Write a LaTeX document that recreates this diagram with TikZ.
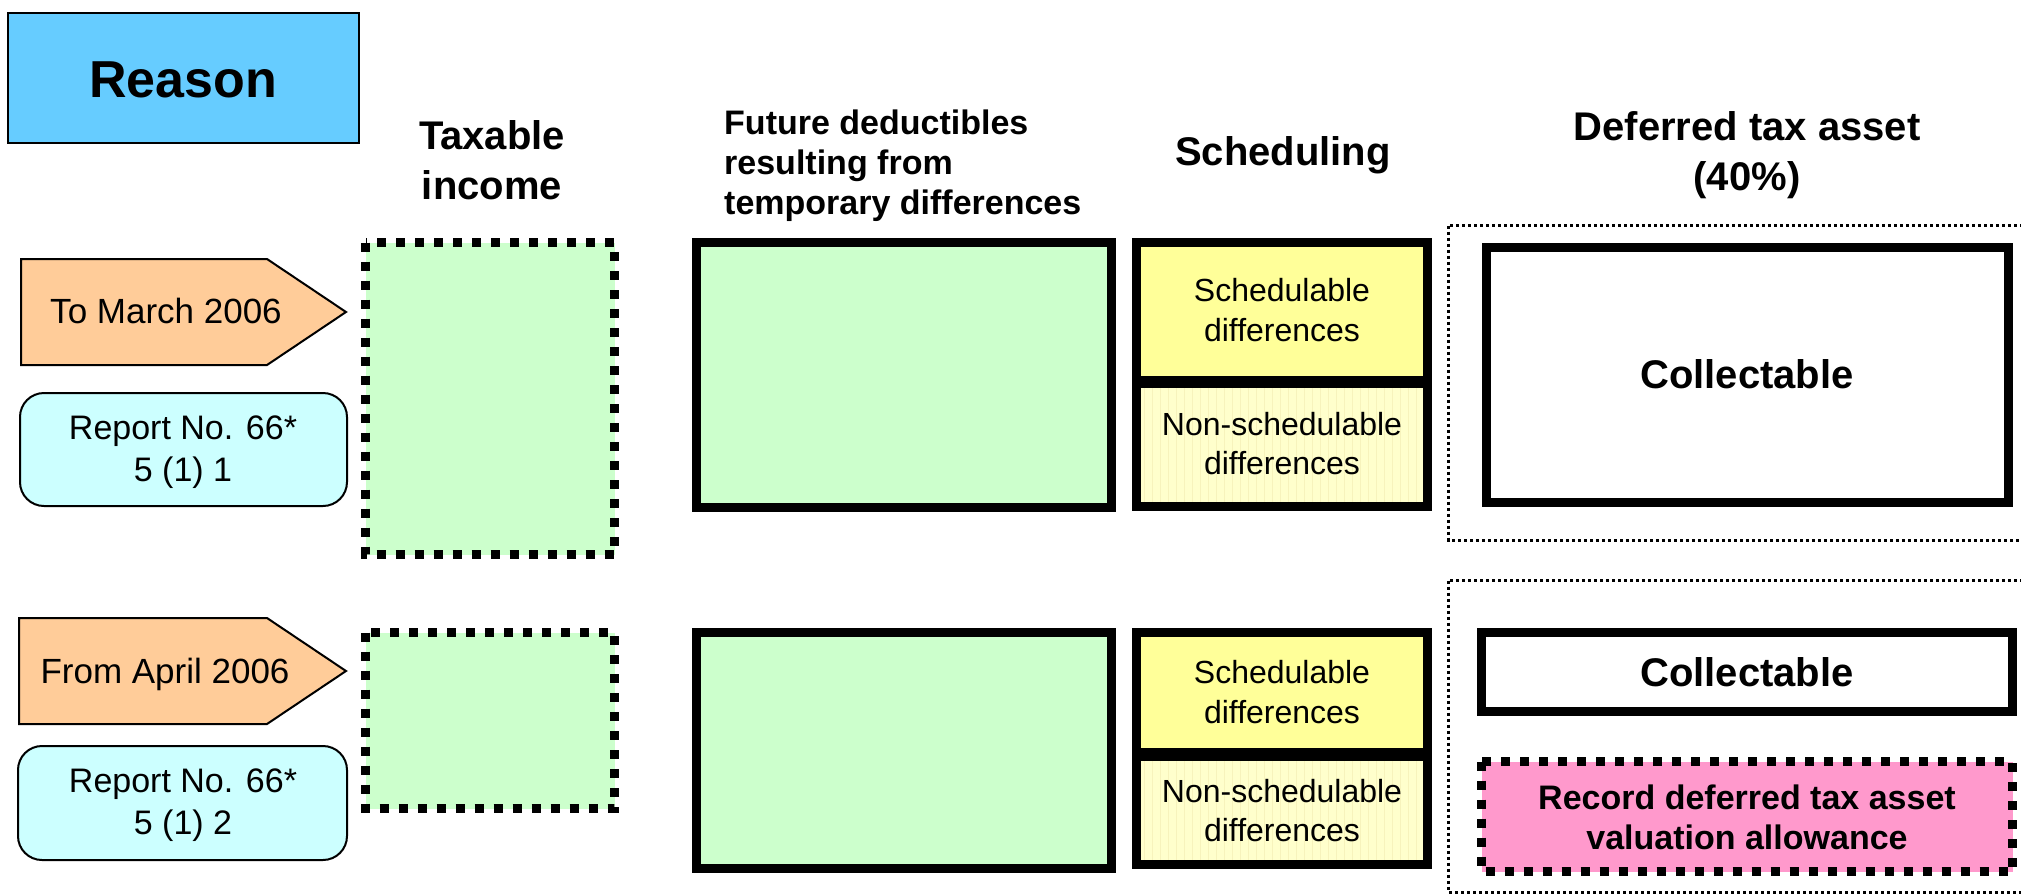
\documentclass[tikz,border=0pt]{standalone}
\usepackage{fontspec}
\setmainfont{Liberation Sans}
\definecolor{reasonblue}{HTML}{66CCFF}
\definecolor{periodorange}{HTML}{FFCC99}
\definecolor{reportcyan}{HTML}{CCFFFF}
\definecolor{incomegreen}{HTML}{CCFFCC}
\definecolor{schedyellow}{HTML}{FFFF99}
\definecolor{nonschedyellow}{HTML}{FFFFCC}
\definecolor{gridyellow}{HTML}{F7F3BC}
\definecolor{allowpink}{HTML}{FF99CC}
\begin{document}
\begin{tikzpicture}[x=1pt,y=-1pt,
  thinbox/.style={draw=black,line width=2pt},
  heavybox/.style={draw=black,line width=9pt},
  dotbox/.style={draw=black,line width=9pt,dash pattern=on 9pt off 10pt},
  finedots/.style={draw=black,line width=3pt,dash pattern=on 3pt off 3pt},
  head/.style={font=\fontsize{40}{50}\selectfont\bfseries,align=center,inner sep=0pt},
  bigtxt/.style={font=\fontsize{40}{48}\selectfont\bfseries,inner sep=0pt,anchor=base},
  periodtxt/.style={font=\fontsize{35}{42}\selectfont,inner sep=0pt,anchor=base},
  reporttxt/.style={font=\fontsize{34}{42}\selectfont,align=center,inner sep=0pt},
  schedtxt/.style={font=\fontsize{32}{39.5}\selectfont,align=center,inner sep=0pt}]
\useasboundingbox (0,0) rectangle (2021,895);
\clip (0,0) rectangle (2021,895);

% column headings
\draw[thinbox,fill=reasonblue] (8,13) rectangle (359,143);
\node[font=\fontsize{52}{60}\selectfont\bfseries,inner sep=0pt,anchor=base] (reason) at (183,97) {Reason};
\node[head] (hincome) at (492,160) {Taxable\\income};
\node[font=\fontsize{34}{40}\selectfont\bfseries,align=left,anchor=west,inner sep=0pt] (hfuture) at (724,166)
  {Future deductibles\\resulting from\\temporary differences};
\node[head] (hsched) at (1283,155) {Scheduling};
\node[head] (hdta) at (1747,155) {Deferred tax asset\\(40\%)};

% ---- period up to March 2006 ----
\draw[thinbox,fill=periodorange] (21,259) -- (267,259) -- (346,312) -- (267,365) -- (21,365) -- cycle;
\node[periodtxt] (p1) at (166,323) {To March 2006};
\draw[thinbox,fill=reportcyan,rounded corners=24pt] (20,393) rectangle (347,506);
\node[reporttxt] (r1) at (183,452) {Report No. 66*\\5 (1) 1};

\fill[incomegreen] (365.5,242.5) rectangle (614.5,554.5);
\draw[dotbox] (365.5,242.5) rectangle (614.5,554.5);
\coordinate (inc1) at (490,398);

\draw[heavybox,fill=incomegreen] (696.5,242.5) rectangle (1111.5,507.5);
\coordinate (fut1) at (904,375);

\fill[schedyellow] (1136.5,242.5) rectangle (1427.5,382);
\fill[nonschedyellow] (1136.5,382) rectangle (1427.5,506.5);
\draw[gridyellow,line width=0.6pt] (1141,386) grid[step=8] (1423,502);
\draw[heavybox] (1136.5,242.5) rectangle (1427.5,506.5);
\draw[black,line width=12pt] (1132,382) -- (1432,382);
\node[schedtxt] (s1) at (1282,310.3) {Schedulable\\differences};
\node[schedtxt] (n1) at (1282,443.8) {Non-schedulable\\differences};

\draw[finedots] (1448.5,225.5) rectangle (2060,540);
\draw[heavybox,fill=white] (1486.5,247.5) rectangle (2008.5,502.5);
\node[bigtxt] (c1) at (1747,388) {Collectable};

% ---- period from April 2006 ----
\draw[thinbox,fill=periodorange] (19,618) -- (267,618) -- (346,671) -- (267,724) -- (19,724) -- cycle;
\node[periodtxt] (p2) at (165,683) {From April 2006};
\draw[thinbox,fill=reportcyan,rounded corners=24pt] (18,746) rectangle (347,860);
\node[reporttxt] (r2) at (183,805.5) {Report No. 66*\\5 (1) 2};

\fill[incomegreen] (365.5,632.5) rectangle (614.5,808.5);
\draw[dotbox] (365.5,632.5) rectangle (614.5,808.5);
\coordinate (inc2) at (490,720);

\draw[heavybox,fill=incomegreen] (696.5,632.5) rectangle (1111.5,868.5);
\coordinate (fut2) at (904,750);

\fill[schedyellow] (1136.5,632.5) rectangle (1427.5,754.5);
\fill[nonschedyellow] (1136.5,754.5) rectangle (1427.5,864.5);
\draw[gridyellow,line width=0.6pt] (1141,761) grid[step=8] (1423,860);
\draw[heavybox] (1136.5,632.5) rectangle (1427.5,864.5);
\draw[black,line width=13pt] (1132,754.5) -- (1432,754.5);
\node[schedtxt] (s2) at (1282,691.8) {Schedulable\\differences};
\node[schedtxt] (n2) at (1282,810.3) {Non-schedulable\\differences};

\draw[finedots] (1448.5,580.5) rectangle (2060,892);
\draw[heavybox,fill=white] (1481.5,632.5) rectangle (2012.5,711.5);
\node[bigtxt] (c2) at (1747,686) {Collectable};
\fill[allowpink] (1481.5,761.5) rectangle (2012.5,871.5);
\draw[dotbox] (1481.5,761.5) rectangle (2012.5,871.5);
\node[font=\fontsize{34}{40}\selectfont\bfseries,align=center,inner sep=0pt] (va) at (1747,817.5)
  {Record deferred tax asset\\valuation allowance};
\end{tikzpicture}
\end{document}
